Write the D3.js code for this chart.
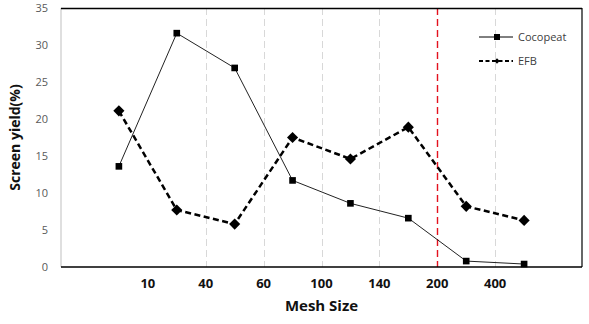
<!DOCTYPE html>
<html><head><meta charset="utf-8">
<script src="https://cdn.jsdelivr.net/npm/d3@7"></script>
<style>body{margin:0;background:#fff}svg{display:block}</style>
</head><body>
<script>
const meshLabels = ["10","40","60","100","140","200","400"];
const cocopeat = [13.6, 31.6, 26.9, 11.7, 8.6, 6.6, 0.8, 0.4];
const efb = [21.1, 7.7, 5.8, 17.5, 14.6, 18.9, 8.2, 6.3];
const yTicks = [0,5,10,15,20,25,30,35];
const seriesNames = ["Cocopeat","EFB"];

const W=589,H=324;
const m={l:61,r:7,t:8,b:57};
const svg=d3.select("body").append("svg").attr("width",W).attr("height",H);
const x=d3.scaleLinear().domain([0,9]).range([m.l,W-m.r]);
const y=d3.scaleLinear().domain([0,35]).range([H-m.b,m.t]);
const font="'Open Sans','Noto Sans',sans-serif";

meshLabels.forEach((l,i)=>{
  if(i===0) return;
  const xv=Math.round(x(i+1.5))+0.5;
  const red = l==="200";
  svg.append("line").attr("x1",xv).attr("x2",xv).attr("y1",y(35)).attr("y2",y(0))
    .attr("stroke", red?"#e3121e":"#d8d8d8").attr("stroke-width",red?1.4:1)
    .attr("stroke-dasharray","7,4");
});
svg.append("line").attr("x1",x(0)).attr("x2",x(0)).attr("y1",y(35)).attr("y2",y(0)).attr("stroke","#bfbfbf");
svg.append("line").attr("x1",x(0)).attr("x2",x(9)).attr("y1",y(35)+0.5).attr("y2",y(35)+0.5).attr("stroke","#000").attr("stroke-width",1.5);
svg.append("line").attr("x1",x(0)).attr("x2",x(9)).attr("y1",y(0)).attr("y2",y(0)).attr("stroke","#000").attr("stroke-width",1.5);
svg.append("line").attr("x1",x(9)).attr("x2",x(9)).attr("y1",y(35)).attr("y2",y(0)).attr("stroke","#000").attr("stroke-width",1.2);

svg.append("g").selectAll("text").data(yTicks).join("text")
  .attr("x",m.l-13).attr("y",d=>y(d)).attr("dy","0.35em").attr("text-anchor","end")
  .attr("font-family",font).attr("font-size",11).attr("fill","#595959").text(d=>d);
svg.append("g").selectAll("text").data(meshLabels).join("text")
  .attr("x",(d,i)=>x(i+1.5)).attr("y",y(0)+21).attr("text-anchor","middle")
  .attr("font-family",font).attr("font-size",13).attr("font-weight","bold").attr("fill","#111").text(d=>d);
svg.append("text").attr("x",x(4.5)).attr("y",311).attr("text-anchor","middle")
  .attr("font-family",font).attr("font-size",15).attr("font-weight","bold").attr("fill","#111").text("Mesh Size");
svg.append("text").attr("transform",`translate(20,${(y(0)+y(35))/2}) rotate(-90)`).attr("text-anchor","middle")
  .attr("font-family",font).attr("font-size",14).attr("font-weight","bold").attr("fill","#111").text("Screen yield(%)");

const line=d3.line().x((d,i)=>x(i+1)).y(d=>y(d));
svg.append("path").attr("d",line(cocopeat)).attr("fill","none").attr("stroke","#222").attr("stroke-width",1);
svg.append("path").attr("d",line(efb)).attr("fill","none").attr("stroke","#000").attr("stroke-width",2.5).attr("stroke-dasharray","6,3.5");

const sq=d3.symbol().type(d3.symbolSquare).size(44);
const dm=d3.symbol().type(d3.symbolSquare).size(62);
svg.append("g").selectAll("path").data(cocopeat).join("path")
  .attr("transform",(d,i)=>`translate(${x(i+1)},${y(d)})`).attr("d",sq).attr("fill","#000");
svg.append("g").selectAll("path").data(efb).join("path")
  .attr("transform",(d,i)=>`translate(${x(i+1)},${y(d)}) rotate(45)`).attr("d",dm).attr("fill","#000");

const lg=svg.append("g");
const ly=[37,61];
lg.append("line").attr("x1",479).attr("x2",513).attr("y1",ly[0]).attr("y2",ly[0]).attr("stroke","#000").attr("stroke-width",1);
lg.append("path").attr("transform",`translate(497,${ly[0]})`).attr("d",d3.symbol().type(d3.symbolSquare).size(36)).attr("fill","#000");
lg.append("line").attr("x1",479).attr("x2",513).attr("y1",ly[1]).attr("y2",ly[1]).attr("stroke","#000").attr("stroke-width",2).attr("stroke-dasharray","4,2.5");
lg.append("path").attr("transform",`translate(497,${ly[1]}) rotate(45)`).attr("d",d3.symbol().type(d3.symbolSquare).size(14)).attr("fill","#000");
lg.selectAll("text").data(seriesNames).join("text")
  .attr("x",518).attr("y",(d,i)=>ly[i]).attr("dy","0.35em")
  .attr("font-family",font).attr("font-size",11).attr("fill","#404040").text(d=>d);
</script>
</body></html>
